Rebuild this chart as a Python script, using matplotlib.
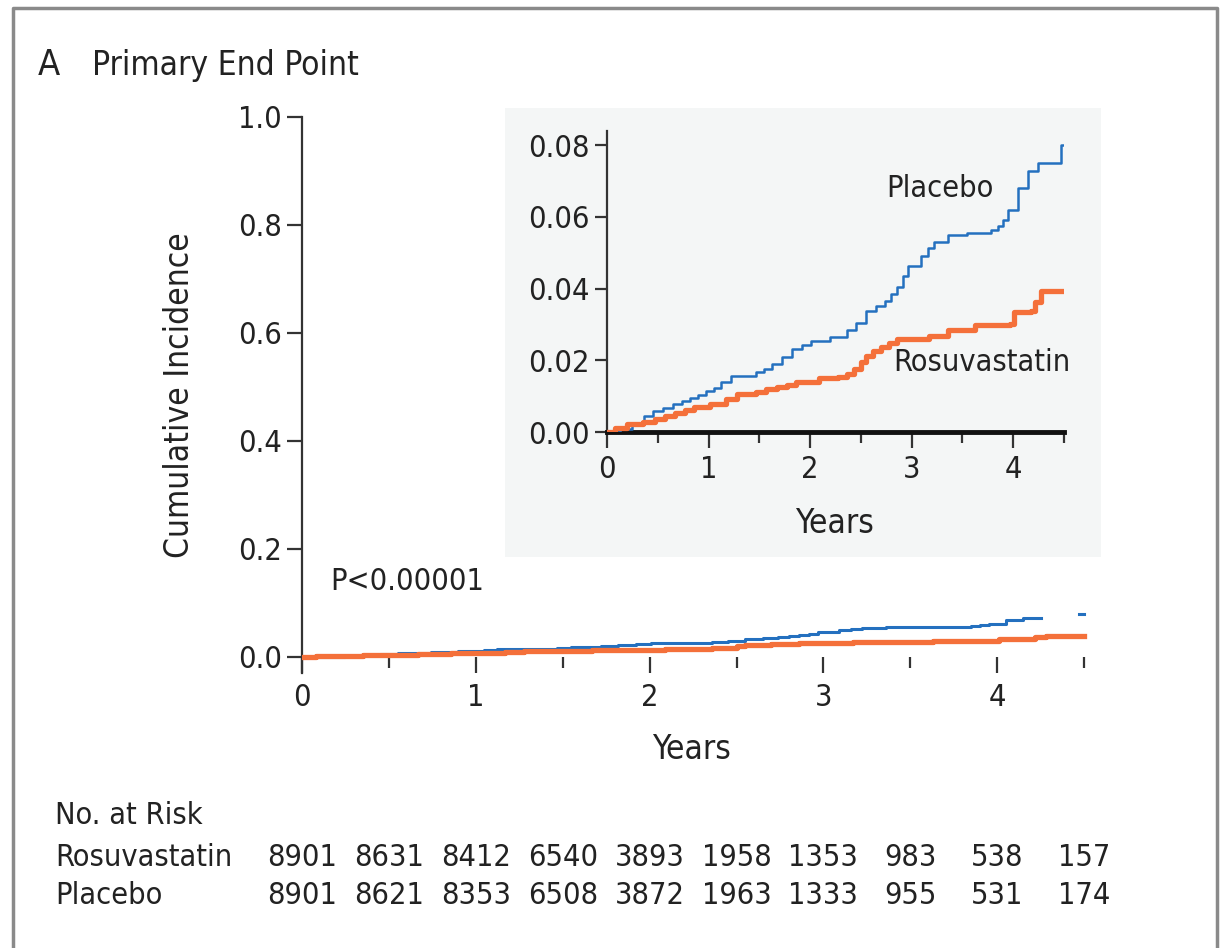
import numpy as np
import matplotlib
matplotlib.use("Agg")
from matplotlib import pyplot as plt
from matplotlib.patches import Rectangle
from matplotlib.lines import Line2D

plt.rcParams['font.family'] = ['DejaVu Sans']
plt.rcParams['font.stretch'] = 'condensed'

# Kaplan-Meier step points (years, cumulative incidence)
placebo_t = [0.0, 0.13, 0.25, 0.36, 0.45, 0.55, 0.65, 0.74, 0.82, 0.90, 0.98, 1.05, 1.12,
             1.22, 1.47, 1.55, 1.63, 1.72, 1.82, 1.92, 2.01, 2.20, 2.36, 2.45, 2.55, 2.65,
             2.74, 2.80, 2.86, 2.92, 2.97, 3.09, 3.16, 3.22, 3.36, 3.55, 3.78, 3.85, 3.90,
             3.95, 4.05, 4.15, 4.25, 4.47, 4.50]
placebo_v = [0.0, 0.0007, 0.0025, 0.0045, 0.0058, 0.0068, 0.0078, 0.0087, 0.0095, 0.0103,
             0.0114, 0.0124, 0.0140, 0.0157, 0.0166, 0.0177, 0.0189, 0.0210, 0.0231, 0.0243,
             0.0255, 0.0264, 0.0283, 0.0305, 0.0338, 0.0350, 0.0366, 0.0385, 0.0404, 0.0435,
             0.0464, 0.0492, 0.0512, 0.0530, 0.0548, 0.0555, 0.0562, 0.0575, 0.0590, 0.0618,
             0.0679, 0.0728, 0.0749, 0.0800, 0.0800]

rosu_t = [0.0, 0.08, 0.20, 0.35, 0.47, 0.57, 0.67, 0.77, 0.86, 1.01, 1.17, 1.28, 1.47, 1.57,
          1.67, 1.77, 1.86, 2.09, 2.28, 2.36, 2.43, 2.50, 2.55, 2.62, 2.70, 2.78, 2.86, 3.17,
          3.36, 3.63, 3.97, 4.01, 4.18, 4.22, 4.28, 4.50]
rosu_v = [0.0, 0.0010, 0.0021, 0.0028, 0.0035, 0.0045, 0.0054, 0.0062, 0.0070, 0.0077,
          0.0091, 0.0105, 0.0112, 0.0119, 0.0126, 0.0132, 0.0138, 0.0150, 0.0154, 0.0163,
          0.0175, 0.0195, 0.0213, 0.0225, 0.0236, 0.0248, 0.0259, 0.0269, 0.0283, 0.0297,
          0.0301, 0.0334, 0.0338, 0.0362, 0.0394, 0.0394]

risk_times = [0, 0.5, 1, 1.5, 2, 2.5, 3, 3.5, 4, 4.5]
risk_rosu = [8901, 8631, 8412, 6540, 3893, 1958, 1353, 983, 538, 157]
risk_placebo = [8901, 8621, 8353, 6508, 3872, 1963, 1333, 955, 531, 174]

blue = '#2470bf'
orange = '#f4703a'
txt = '#222222'
W, H = 1222, 948

fig = plt.figure(figsize=(W / 100, H / 100), dpi=100)


def fx(px):
    return px / W


def fy(py):
    return 1 - py / H


# frame around the panel
fig.add_artist(Line2D([fx(13), fx(13), fx(1217), fx(1217)], [fy(960), fy(8), fy(8), fy(960)],
                      color='#8a8a8a', lw=2.5, transform=fig.transFigure))

# grey background behind the inset
fig.add_artist(Rectangle((fx(505), fy(557)), fx(1101) - fx(505), fy(108) - fy(557),
                         transform=fig.transFigure, facecolor='#f4f6f6', edgecolor='none', zorder=0))


def style_xticks(a, pad):
    a.set_xticks([0, 1, 2, 3, 4])
    a.set_xticks([0.5, 1.5, 2.5, 3.5, 4.5], minor=True)
    a.tick_params(axis='x', which='major', length=11.5, width=1.6, pad=pad,
                  colors='#333333', labelcolor=txt, labelsize=22)
    a.tick_params(axis='x', which='minor', length=8, width=1.6, colors='#333333')


# main axes
ax = fig.add_axes([fx(302), fy(673.2), 4.6 * 173.8 / W, (673.2 - 117) / H])
ax.set_facecolor('none')
ax.set_xlim(0, 4.6)
ax.set_ylim(-0.03, 1.0)
for s in ['top', 'right']:
    ax.spines[s].set_visible(False)
ax.spines['bottom'].set_position(('data', 0))
ax.spines['bottom'].set_visible(False)
ax.spines['left'].set_color('#333333')
ax.spines['left'].set_linewidth(1.6)
ax.set_yticks([0, 0.2, 0.4, 0.6, 0.8, 1.0])
ax.set_yticklabels(['0.0', '0.2', '0.4', '0.6', '0.8', '1.0'])
ax.tick_params(axis='y', colors='#333333', labelcolor=txt, labelsize=22, width=1.6, length=11)
style_xticks(ax, 7)

pt = np.array(placebo_t)
pv = np.array(placebo_v, dtype=float)
# the main panel's placebo line has a short break before the last step
main_pv = np.where((pt > 4.2) & (pt < 4.4), np.nan, pv)
ax.step(pt, main_pv, where='post', color=blue, lw=2.2, zorder=3)
ax.step(rosu_t, rosu_v, where='post', color=orange, lw=3.8, zorder=4)

ax.text(0.4866, -0.138, 'Years', transform=ax.transAxes, fontsize=24, color=txt,
        ha='center', va='center')
ax.set_ylabel('Cumulative Incidence', fontsize=24, color=txt, labelpad=30)
ax.text(0.16, 0.14, 'P<0.00001', fontsize=22, color=txt, va='center', ha='left')

# inset axes
ins = fig.add_axes([fx(607), fy(432), 4.5 * 101.5 / W, 0.084 * 3587 / H])
ins.set_facecolor('none')
ins.set_xlim(0, 4.5)
ins.set_ylim(0, 0.084)
for s in ['top', 'right']:
    ins.spines[s].set_visible(False)
ins.spines['bottom'].set_linewidth(3.5)
ins.spines['bottom'].set_color('#111111')
ins.spines['left'].set_linewidth(1.6)
ins.spines['left'].set_color('#333333')
ins.set_yticks([0, 0.02, 0.04, 0.06, 0.08])
ins.set_yticklabels(['0.00', '0.02', '0.04', '0.06', '0.08'])
ins.tick_params(axis='y', colors='#333333', labelcolor=txt, labelsize=22, width=1.6, length=9)
style_xticks(ins, 5)
ins.step(placebo_t, placebo_v, where='post', color=blue, lw=1.8, zorder=3)
ins.step(rosu_t, rosu_v, where='post', color=orange, lw=3.8, zorder=4)
ins.text(0.499, -0.305, 'Years', transform=ins.transAxes, fontsize=24, color=txt,
         ha='center', va='center')
ins.text(2.75, 0.068, 'Placebo', fontsize=22, color=txt, ha='left', va='center')
ins.text(2.82, 0.0195, 'Rosuvastatin', fontsize=22, color=txt, ha='left', va='center')

# titles
fig.text(fx(38), fy(65), 'A', fontsize=26, color=txt, va='center', ha='left')
fig.text(fx(92), fy(65), 'Primary End Point', fontsize=24, color=txt, va='center', ha='left')

# number at risk table
fig.text(fx(55), fy(815), 'No. at Risk', fontsize=22, color=txt, va='center', ha='left')
fig.text(fx(55), fy(857), 'Rosuvastatin', fontsize=22, color=txt, va='center', ha='left')
fig.text(fx(55), fy(895), 'Placebo', fontsize=22, color=txt, va='center', ha='left')
for t, r, p in zip(risk_times, risk_rosu, risk_placebo):
    x = fx(302 + t * 173.8)
    fig.text(x, fy(857), str(r), fontsize=22, color=txt, va='center', ha='center')
    fig.text(x, fy(895), str(p), fontsize=22, color=txt, va='center', ha='center')

fig.savefig('out.png', dpi=100)
